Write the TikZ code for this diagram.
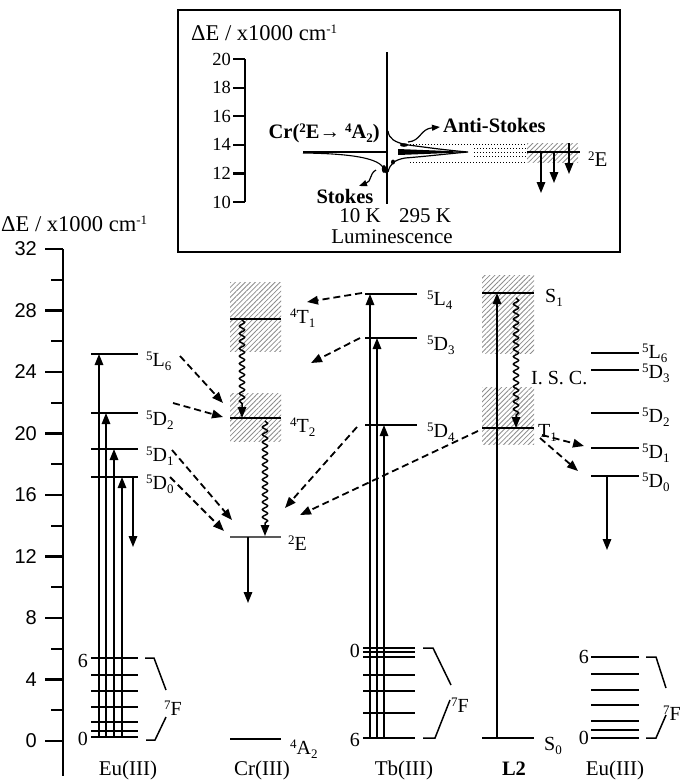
\documentclass[tikz,border=0pt]{standalone}
\usepackage{fontspec}
\setmainfont{Liberation Serif}
\newfontfamily\axfont{Liberation Sans}
\usetikzlibrary{arrows.meta,decorations.pathmorphing,patterns.meta}
\newcommand\supx[1]{\raisebox{0.62ex}{\fontsize{13}{13}\selectfont #1}}
\newcommand\subx[1]{\raisebox{-0.5ex}{\fontsize{13}{13}\selectfont #1}}
\begin{document}
\begin{tikzpicture}[x=1pt,y=-1pt,>={Triangle[length=11pt,width=8.5pt]},
 lvl/.style={line width=1.7pt},
 ax/.style={line width=2.2pt},
 varr/.style={line width=1.5pt,->},
 darr/.style={line width=1.8pt,dash pattern=on 7pt off 4pt,->},
 wavy/.style={line width=1.5pt,->,decorate,decoration={snake,amplitude=2.6pt,segment length=7.5pt,post length=11pt}},
 hatch/.style={pattern={Lines[angle=45,distance=3.5pt,line width=0.8pt]},pattern color=black!45},
 lab/.style={font=\fontsize{20}{23}\selectfont,inner sep=0pt},
 big/.style={font=\fontsize{21}{24}\selectfont,inner sep=0pt},
 bigb/.style={font=\fontsize{20.5}{24}\selectfont\bfseries,inner sep=0pt},
 axl/.style={font=\fontsize{22.5}{26}\selectfont,inner sep=0pt},
 num/.style={font=\axfont\fontsize{20}{22}\selectfont,inner sep=0pt},
 inum/.style={font=\fontsize{18.5}{20}\selectfont,inner sep=0pt},
 dots/.style={line width=1pt,dash pattern=on 1.2pt off 1.8pt},
 small/.style={line width=1.2pt,-{Triangle[length=8pt,width=6pt]}},
]
\useasboundingbox (0,0) rectangle (682,780);

% ---------------- main axis
\node[axl,anchor=base west] (axlab) at (1,231) {ΔE / x1000 cm\supx{-1}};
\draw[ax] (63,249) -- (63,776);
\foreach \v in {0,4,...,32}{
  \draw[ax] (45,{741-15.375*\v}) -- (63,{741-15.375*\v});
  \node[num,anchor=east] (tk\v) at (37,{741-15.375*\v}) {\v};
}
\foreach \v in {2,6,...,30} \draw[ax] (51,{741-15.375*\v}) -- (63,{741-15.375*\v});

% ---------------- inset
\draw[line width=1.5pt] (178,10) rectangle (620,252);
\node[axl,anchor=base west] (ilab) at (191,40) {ΔE / x1000 cm\supx{-1}};
\draw[ax] (245,59) -- (245,202);
\foreach \v in {10,12,...,20}{
  \draw[ax] (233,{202-14.3*(\v-10)}) -- (245,{202-14.3*(\v-10)});
  \node[inum,anchor=east] (itk\v) at (231,{202-14.3*(\v-10)}) {\v};
}
\draw[line width=1.8pt] (387,52) -- (387,204);
% 10 K spectrum
\draw[line width=2pt] (387,151.5) -- (303,151.5);
\draw[line width=1.1pt] (303,153) .. controls (345,153.5) and (372,157) .. (381,165) .. controls (384,168) .. (386,173);
\fill (384,169) ellipse (2.2 and 4);
% 295 K spectrum
\fill (398,149) .. controls (430,150.3) and (450,151) .. (468,152) .. controls (450,153) and (430,153.8) .. (398,155) -- cycle;
\draw[line width=1.2pt] (388,131) .. controls (389,139) and (395,142) .. (405,144.5) .. controls (430,148) and (450,150.5) .. (468,152) .. controls (450,153.5) and (430,156) .. (405,158) .. controls (394,160) and (390,164) .. (388,172);
\fill (404,145) ellipse (4 and 1.8);
\fill (393,162) ellipse (2 and 2.5);
% dotted
\foreach \yy in {144,162} \draw[dots] (410,\yy) -- (527,\yy);
\foreach \yy in {148,152,156} \draw[dots] (474,\yy) -- (527,\yy);
\fill[hatch] (527,143) rectangle (578,162);
\draw[lvl] (527,152) -- (580,152);
\node[big,anchor=base west] (i2E) at (588,166) {\supx{2}E};
\coordinate (ia1) at (541,152); \coordinate (ia1e) at (541,193);
\coordinate (ia2) at (554,152); \coordinate (ia2e) at (554,183);
\coordinate (ia3) at (569,143); \coordinate (ia3e) at (569,174);
\draw[varr] (ia1) -- (ia1e);
\draw[varr] (ia2) -- (ia2e);
\draw[varr] (ia3) -- (ia3e);
\node[bigb,anchor=base east] (crlab) at (380,138) {Cr(\supx{2}E→ \supx{4}A\subx{2})};
\node[bigb,anchor=base west] (anti) at (443,132) {Anti-Stokes};
\node[bigb,anchor=base] (stokes) at (345,203) {Stokes};
\coordinate (st1) at (376,170); \coordinate (st2) at (359,186);
\draw[small] (st1) .. controls (369,174) and (372,181) .. (st2);
\coordinate (as1) at (408,142); \coordinate (as2) at (440,127);
\draw[small] (as1) .. controls (421,141) and (420,129) .. (as2);
\node[big,anchor=base] (k10) at (360,222) {10 K};
\node[big,anchor=base] (k295) at (425,222) {295 K};
\node[big,anchor=base] (lum) at (392,243) {Luminescence};

% ---------------- hatched boxes
\fill[hatch] (230,282) rectangle (281,351);
\fill[hatch] (230,393) rectangle (281,441);
\fill[hatch] (482,275) rectangle (534,353);
\fill[hatch] (482,387) rectangle (534,444);

% ---------------- Eu(III) left
\foreach \yy in {354,413,449,477,658,675,691,707,722,731,737} \draw[lvl] (91,\yy) -- (138,\yy);
\draw[varr] (99,737) -- (99,354);
\draw[varr] (106,737) -- (106,413);
\draw[varr] (114,737) -- (114,449);
\draw[varr] (122,737) -- (122,477);
\draw[varr] (133,477) -- (133,547);
\node[lab,anchor=base west] (eL6) at (146,366) {\supx{5}L\subx{6}};
\node[lab,anchor=base west] (eD2) at (146,425) {\supx{5}D\subx{2}};
\node[lab,anchor=base west] (eD1) at (146,461) {\supx{5}D\subx{1}};
\node[lab,anchor=base west] (eD0) at (146,489) {\supx{5}D\subx{0}};
\node[lab,anchor=east] (e6) at (88,661) {6};
\node[lab,anchor=east] (e0) at (88,739) {0};
\draw[line width=1.5pt] (145,658) -- (154,658) -- (166,690);
\draw[line width=1.5pt] (166,717) -- (155,740) -- (146,740);
\node[lab,anchor=base west] (eF) at (164,715) {\supx{7}F};

% ---------------- Cr(III)
\draw[lvl] (230,319) -- (281,319);
\draw[lvl] (230,418) -- (281,418);
\draw[lvl,draw=black!65] (230,537) -- (281,537);
\draw[lvl] (230,739) -- (281,739);
\draw[wavy] (242,320) -- (242,418);
\draw[wavy] (265,421) -- (265,536);
\draw[varr] (248,537) -- (248,603);
\node[lab,anchor=base west] (cT1) at (290,323) {\supx{4}T\subx{1}};
\node[lab,anchor=base west] (cT2) at (290,432) {\supx{4}T\subx{2}};
\node[lab,anchor=base west] (cE) at (288,550) {\supx{2}E};
\node[lab,anchor=base west] (cA2) at (290,754) {\supx{4}A\subx{2}};

% ---------------- Tb(III)
\foreach \yy in {294,338,425} \draw[lvl] (365,\yy) -- (417,\yy);
\foreach \yy in {648,652,657,675,691,713,738} \draw[line width=1.5pt] (363,\yy) -- (415,\yy);
\draw[varr] (370,738) -- (370,294);
\draw[varr] (377,738) -- (377,338);
\draw[varr] (384,738) -- (384,425);
\node[lab,anchor=base west] (tL4) at (427,305) {\supx{5}L\subx{4}};
\node[lab,anchor=base west] (tD3) at (427,350) {\supx{5}D\subx{3}};
\node[lab,anchor=base west] (tD4) at (427,437) {\supx{5}D\subx{4}};
\node[lab,anchor=east] (t0) at (360,651) {0};
\node[lab,anchor=east] (t6) at (360,740) {6};
\draw[line width=1.5pt] (423,648) -- (433,648) -- (451,685);
\draw[line width=1.5pt] (450,700) -- (435,738) -- (423,738);
\node[lab,anchor=base west] (tF) at (451,712) {\supx{7}F};

% ---------------- L2
\draw[lvl] (482,293) -- (534,293);
\draw[lvl] (482,428) -- (534,428);
\draw[lvl] (482,738) -- (534,738);
\draw[varr] (497,738) -- (497,293);
\draw[wavy] (516,298) -- (516,428);
\node[lab,anchor=base west] (lS1) at (545,302) {S\subx{1}};
\node[lab,anchor=base west] (lT1) at (538,437) {T\subx{1}};
\node[lab,anchor=base west] (lS0) at (544,750) {S\subx{0}};
\node[lab,anchor=base west] (isc) at (531,384) {I. S. C.};

% ---------------- Eu(III) right
\foreach \yy in {353,370,413,448,476,657,674,690,705,721,730,738} \draw[lvl] (591,\yy) -- (639,\yy);
\draw[varr] (607,476) -- (607,550);
\node[lab,anchor=base west] (rL6) at (642,358) {\supx{5}L\subx{6}};
\node[lab,anchor=base west] (rD3) at (642,378) {\supx{5}D\subx{3}};
\node[lab,anchor=base west] (rD2) at (642,422) {\supx{5}D\subx{2}};
\node[lab,anchor=base west] (rD1) at (642,458) {\supx{5}D\subx{1}};
\node[lab,anchor=base west] (rD0) at (642,487) {\supx{5}D\subx{0}};
\node[lab,anchor=east] (r6) at (589,657) {6};
\node[lab,anchor=east] (r0) at (589,738) {0};
\draw[line width=1.5pt] (646,657) -- (656,657) -- (666,688);
\draw[line width=1.5pt] (666,715) -- (656,738) -- (646,738);
\node[lab,anchor=base west] (rF) at (663,720) {\supx{7}F};

% ---------------- dashed energy transfer arrows
\coordinate (d1s) at (180,356); \coordinate (d1e) at (223,403);
\coordinate (d2s) at (173,403); \coordinate (d2e) at (223,417);
\coordinate (d3s) at (172,450); \coordinate (d3e) at (232,520);
\coordinate (d4s) at (170,477); \coordinate (d4e) at (224,531);
\coordinate (d5s) at (362,293); \coordinate (d5e) at (307,302);
\coordinate (d6s) at (360,338); \coordinate (d6e) at (311,363);
\coordinate (d7s) at (357,427); \coordinate (d7e) at (285,508);
\coordinate (d8s) at (478,431); \coordinate (d8e) at (300,515);
\coordinate (d9s) at (542,435); \coordinate (d9e) at (584,446);
\coordinate (d10s) at (540,438); \coordinate (d10e) at (578,471);
\foreach \i in {1,...,10} \draw[darr] (d\i s) -- (d\i e);

% ---------------- column labels
\node[big,anchor=base] (cEu1) at (128,775) {Eu(III)};
\node[big,anchor=base] (cCr) at (262,775) {Cr(III)};
\node[big,anchor=base] (cTb) at (404,775) {Tb(III)};
\node[bigb,anchor=base] (cL2) at (514,775) {L2};
\node[big,anchor=base] (cEu2) at (615,775) {Eu(III)};
\end{tikzpicture}
\end{document}
